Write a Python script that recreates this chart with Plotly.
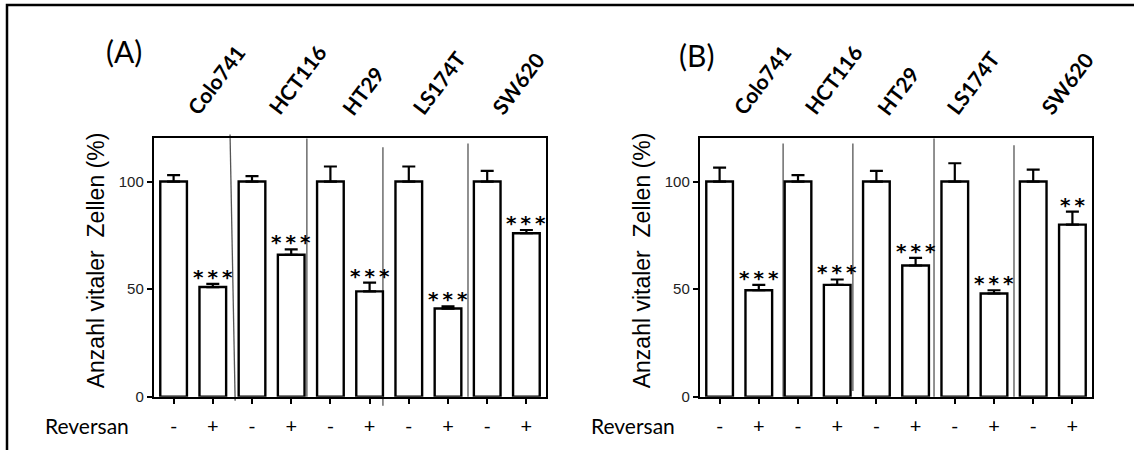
import plotly.graph_objects as go

# ---- data -------------------------------------------------------------
cell_lines = ["Colo741", "HCT116", "HT29", "LS174T", "SW620"]
treatment_labels = ["-", "+"]
y_ticks = [0, 50, 100]

# Panel A: viable cells (% of untreated control), mean and upper error
a_control = [100, 100, 100, 100, 100]
a_control_err = [3, 2.5, 7, 7, 5]
a_reversan = [51, 66, 49, 41, 76]
a_reversan_err = [1.5, 2.5, 4, 1, 1.5]
a_signif = ["***", "***", "***", "***", "***"]

# Panel B
b_control = [100, 100, 100, 100, 100]
b_control_err = [6.5, 3, 5, 8.5, 5.5]
b_reversan = [49.5, 52, 61, 48, 80]
b_reversan_err = [2.5, 2.5, 3.5, 1.5, 6]
b_signif = ["***", "***", "***", "***", "**"]

# ---- layout helpers ---------------------------------------------------
W, H = 1134, 450
PLOT_TOP, PLOT_BOTTOM = 141, 404
SANS = "Liberation Sans, Arial, sans-serif"
STAR = "DejaVu Sans, sans-serif"
HUMAN = "Lato, Open Sans, sans-serif"


def px_x(px):
    return px / W


def px_y(py):
    return 1 - py / H


def interleave(a, b):
    out = []
    for u, v in zip(a, b):
        out += [u, v]
    return out


panels = [
    dict(xa="x", ya="y", left=154, right=546, tag="(A)", tag_pos=(124, 52),
         title_x=96,
         ctrl=a_control, ctrl_err=a_control_err,
         rev=a_reversan, rev_err=a_reversan_err, sig=a_signif,
         label_shift=[-6, -3, -8, -16, -15],
         seps=[(1.44, 1.57, 137, 408), (3.40, 3.40, 141, 404),
               (5.34, 5.34, 150, 413), (7.51, 7.51, 146, 404)]),
    dict(xa="x2", ya="y2", left=700, right=1092, tag="(B)", tag_pos=(696, 56),
         title_x=642,
         ctrl=b_control, ctrl_err=b_control_err,
         rev=b_reversan, rev_err=b_reversan_err, sig=b_signif,
         label_shift=[-6, -13, -19, -28, -12],
         seps=[(1.62, 1.62, 146, 404), (3.40, 3.40, 146, 398),
               (5.47, 5.47, 141, 404), (7.51, 7.51, 148, 404)]),
]

n_bars = 2 * len(cell_lines)
x_pos = list(range(n_bars))
x_range = [-0.5, n_bars - 0.5]

fig = go.Figure()
annotations = []
shapes = []
layout_axes = {}

for i, p in enumerate(panels):
    values = interleave(p["ctrl"], p["rev"])
    errors = interleave(p["ctrl_err"], p["rev_err"])
    fig.add_trace(go.Bar(
        x=x_pos, y=values, width=0.68,
        marker=dict(color="white", line=dict(color="black", width=2.4)),
        error_y=dict(type="data", symmetric=False, array=errors,
                     arrayminus=[0] * n_bars, color="black",
                     thickness=2.2, width=6.5),
        xaxis=p["xa"], yaxis=p["ya"], showlegend=False, hoverinfo="skip",
    ))

    suffix = "" if i == 0 else str(i + 1)
    dom = [px_x(p["left"]), px_x(p["right"])]
    layout_axes["xaxis" + suffix] = dict(
        domain=dom, range=x_range, anchor="y" + suffix,
        tickmode="array", tickvals=x_pos,
        ticktext=treatment_labels * len(cell_lines),
        ticks="outside", ticklen=5, tickwidth=2, tickcolor="black",
        tickfont=dict(family=HUMAN, size=20, color="black"),
        ticklabelstandoff=5,
        showline=True, linewidth=2.4, linecolor="black", mirror=True,
        showgrid=False, zeroline=False, fixedrange=True,
    )
    layout_axes["yaxis" + suffix] = dict(
        domain=[px_y(PLOT_BOTTOM), px_y(PLOT_TOP)], range=[0, 120],
        anchor="x" + suffix, tickmode="array", tickvals=y_ticks,
        ticks="outside", ticklen=5, tickwidth=2, tickcolor="black",
        tickfont=dict(family=SANS, size=15, color="#222"),
        showline=True, linewidth=2.4, linecolor="black", mirror=True,
        showgrid=False, zeroline=False, fixedrange=True,
    )

    # significance stars above the Reversan bars
    for k, (v, e, s) in enumerate(zip(p["rev"], p["rev_err"], p["sig"])):
        annotations.append(dict(
            x=2 * k + 1, y=v + e, xref=p["xa"], yref=p["ya"],
            text="<b>%s</b>" % "\u2009".join(s), showarrow=False,
            yanchor="bottom", yshift=-7,
            font=dict(family=STAR, size=20, color="black"),
        ))

    # rotated cell-line names above each group
    for k, (name, dx) in enumerate(zip(cell_lines, p["label_shift"])):
        annotations.append(dict(
            x=2 * k + 0.5, y=px_y(124), xref=p["xa"], yref="paper",
            text="<b>%s</b>" % name, showarrow=False, textangle=-53,
            xanchor="left", yanchor="bottom", xshift=dx - 8,
            font=dict(family=HUMAN, size=21, color="black"),
        ))

    # panel tag
    annotations.append(dict(
        x=px_x(p["tag_pos"][0]), y=px_y(p["tag_pos"][1]), xref="paper",
        yref="paper", text=p["tag"], showarrow=False,
        xanchor="center", yanchor="middle",
        font=dict(family=HUMAN, size=30, color="black"),
    ))

    # y-axis title
    annotations.append(dict(
        x=px_x(p["title_x"]), y=px_y(265),
        xref="paper", yref="paper",
        text="Anzahl vitaler\u00a0 Zellen (%)", textangle=-90,
        showarrow=False, xanchor="center", yanchor="middle",
        font=dict(family=SANS, size=23, color="black"),
    ))

    # row label for the treatment
    annotations.append(dict(
        x=px_x(p["left"] - 111), y=px_y(433), xref="paper", yref="paper",
        text="Reversan", showarrow=False, xanchor="left", yanchor="middle",
        font=dict(family=HUMAN, size=21, color="black"),
    ))

    # thin separators between the cell-line groups
    span = x_range[1] - x_range[0]
    for x_top, x_bot, y_top, y_bot in p["seps"]:
        def to_paper(xd):
            return dom[0] + (xd - x_range[0]) / span * (dom[1] - dom[0])
        shapes.append(dict(
            type="line", xref="paper", yref="paper",
            x0=to_paper(x_top), y0=px_y(y_top),
            x1=to_paper(x_bot), y1=px_y(y_bot),
            line=dict(color="#555", width=1.3), layer="below",
        ))

# outer frame (top and left edges visible)
shapes.append(dict(
    type="rect", xref="paper", yref="paper",
    x0=px_x(7), y0=-0.05, x1=1.05, y1=px_y(5),
    line=dict(color="black", width=2.5),
))

fig.update_layout(
    width=W, height=H, margin=dict(l=0, r=0, t=0, b=0),
    paper_bgcolor="white", plot_bgcolor="rgba(0,0,0,0)",
    bargap=0.32, annotations=annotations, shapes=shapes,
    showlegend=False, **layout_axes,
)

fig.write_html("out.html", config={"displayModeBar": False})
